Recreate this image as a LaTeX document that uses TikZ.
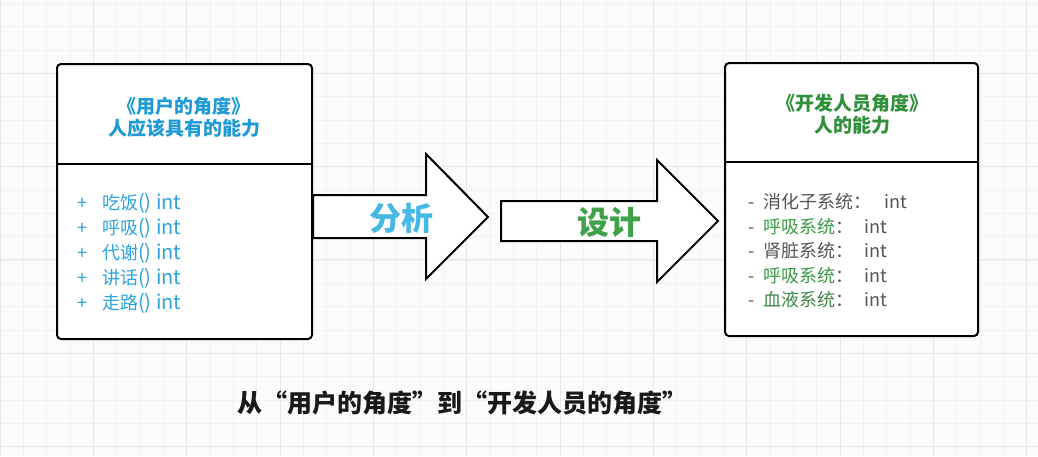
\documentclass[tikz,border=0pt]{standalone}
\usepackage{fontspec}
\setmainfont{Noto Sans CJK SC}
\definecolor{gridminor}{HTML}{F1F1F3}
\definecolor{gridmajor}{HTML}{E6E6E9}
\definecolor{userblue}{HTML}{1E9AD6}
\definecolor{listblue}{HTML}{2BA3DC}
\definecolor{arrowblue}{HTML}{45B8E6}
\definecolor{devgreen}{HTML}{2F8F3A}
\definecolor{arrowgreen}{HTML}{3FA14A}
\definecolor{listgray}{HTML}{555555}
\definecolor{listgreen}{HTML}{3A9A45}
\definecolor{bggray}{HTML}{FBFBFC}
\newcommand{\latinbig}[1]{{\fontsize{20}{20}\selectfont #1}}
\begin{document}
\begin{tikzpicture}[x=1pt,y=-1pt,
  classbox/.style={draw=black,line width=2pt,rounded corners=4pt,fill=white,
    minimum width=255pt,minimum height=275pt,inner sep=0pt},
  divider/.style={draw=black,line width=1.8pt},
  bigarrow/.style={draw=black,line width=2pt,fill=white,line join=miter},
  titletext/.style={font=\fontsize{19}{22}\selectfont\bfseries,align=center,inner sep=0pt},
  arrowtext/.style={font=\fontsize{32}{34}\selectfont\bfseries,inner sep=0pt},
  listtext/.style={font=\fontsize{18}{20}\selectfont,anchor=base west,inner sep=0pt},
  captiontext/.style={font=\fontsize{25}{28}\selectfont\bfseries,inner sep=0pt}]
\useasboundingbox (0,0) rectangle (1038,456);
\fill[bggray] (0,0) rectangle (1038,456);
% grid
\foreach \i in {0,...,44} {
  \draw[gridminor,line width=0.8pt] ({\i*23.333},0) -- ({\i*23.333},456);
}
\foreach \j in {0,...,19} {
  \draw[gridminor,line width=0.8pt] (0,{3.3+\j*23.333}) -- (1038,{3.3+\j*23.333});
}
\foreach \i in {0,...,11} {
  \draw[gridmajor,line width=1pt] ({\i*93.333},0) -- ({\i*93.333},456);
}
\foreach \j in {0,...,4} {
  \draw[gridmajor,line width=1pt] (0,{73.3+\j*93.333}) -- (1038,{73.3+\j*93.333});
}

% left class box
\node[classbox] (L) at (184.5,201.5) {};
\draw[divider] (L.west |- 0,164) -- (L.east |- 0,164);
\node[titletext,text=userblue] (Ltitle) at (184,117.5) {《用户的角度》\\人应该具有的能力};
\node[listtext,text=listblue] (L1) at (77,209) {\makebox[25pt][l]{+}吃饭\latinbig{() int}};
\node[listtext,text=listblue] (L2) at (77,234) {\makebox[25pt][l]{+}呼吸\latinbig{() int}};
\node[listtext,text=listblue] (L3) at (77,259) {\makebox[25pt][l]{+}代谢\latinbig{() int}};
\node[listtext,text=listblue] (L4) at (77,284) {\makebox[25pt][l]{+}讲话\latinbig{() int}};
\node[listtext,text=listblue] (L5) at (77,309) {\makebox[25pt][l]{+}走路\latinbig{() int}};

% right class box
\node[classbox,minimum width=253pt,minimum height=273pt] (R) at (851.5,199.5) {};
\draw[divider] (R.west |- 0,162) -- (R.east |- 0,162);
\node[titletext,text=devgreen] (Rtitle) at (852,114.5) {《开发人员角度》\\人的能力};
\node[listtext,text=listgray] (R1) at (748,208) {\makebox[15pt][l]{-}消化子系统：\hspace{13pt}int};
\node[listtext] (R2) at (748,233) {\makebox[15pt][l]{\color{listgray}-}\textcolor{listgreen}{呼吸系统}\textcolor{listgray}{：\hspace{11pt}int}};
\node[listtext,text=listgray] (R3) at (748,257) {\makebox[15pt][l]{-}肾脏系统：\hspace{11pt}int};
\node[listtext] (R4) at (748,282) {\makebox[15pt][l]{\color{listgray}-}\textcolor{listgreen}{呼吸系统}\textcolor{listgray}{：\hspace{11pt}int}};
\node[listtext] (R5) at (748,306) {\makebox[15pt][l]{\color{listgray}-}\textcolor{listgreen!70!listgray}{血液系统}\textcolor{listgray}{：\hspace{11pt}int}};

% arrows
\draw[bigarrow] (313,195) -- (426,195) -- (426,154) -- (488,217) -- (426,279) -- (426,238) -- (313,238) -- cycle;
\node[arrowtext,text=arrowblue] (A1) at (401,218) {分析};
\draw[bigarrow] (501,201) -- (657,201) -- (657,160) -- (718,221) -- (657,282) -- (657,241) -- (501,241) -- cycle;
\node[arrowtext,text=arrowgreen] (A2) at (609,222) {设计};

% caption
\node[captiontext,text=black!90] (cap) at (462,403) {从“用户的角度”到“开发人员的角度”};
\end{tikzpicture}
\end{document}
